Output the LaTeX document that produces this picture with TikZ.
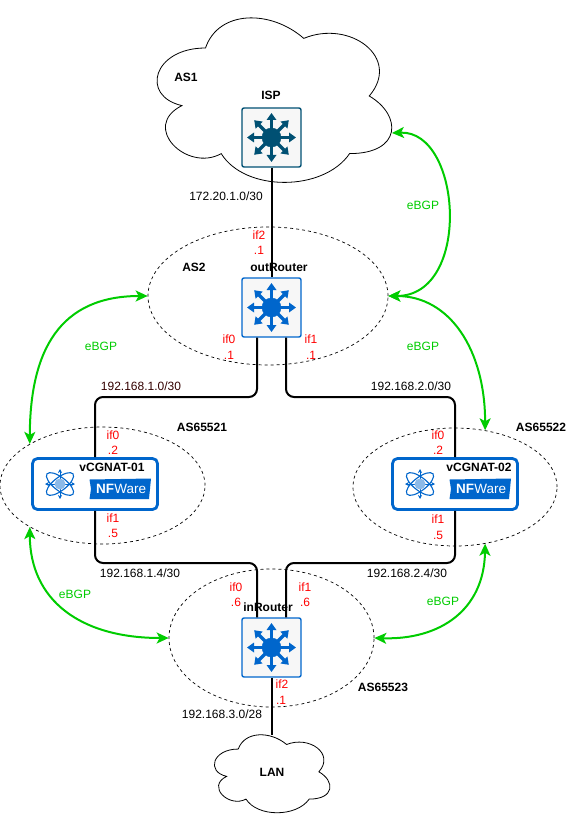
\documentclass[tikz,border=0pt]{standalone}
\usepackage{fontspec}
\setmainfont{Liberation Sans}
\usepackage{xcolor}
\usepackage{tikz}
\usetikzlibrary{shapes.geometric, arrows.meta, calc}
\definecolor{ispblue}{HTML}{005073}
\definecolor{routerblue}{HTML}{0066CC}
\definecolor{bgpgreen}{HTML}{00CC00}
\definecolor{ifred}{HTML}{FF0000}
\tikzset{
  routerbox/.style={rectangle, rounded corners=2pt, minimum width=59pt, minimum height=59pt,
    draw=#1, line width=1.4pt, fill=black!3, inner sep=0pt},
  vnfbox/.style={rectangle, rounded corners=5pt, minimum width=125pt, minimum height=51pt,
    draw=routerblue, line width=2.8pt, fill=white, inner sep=0pt},
  asring/.style={ellipse, draw=black, dashed, line width=0.7pt, inner sep=0pt},
  link/.style={line width=2pt, rounded corners=8pt},
  bgp/.style={line width=2pt, draw=bgpgreen, {Stealth[length=12pt,width=11pt,inset=3pt]}-{Stealth[length=12pt,width=11pt,inset=3pt]}},
  boldname/.style={font=\bfseries\fontsize{12}{14}\selectfont, inner sep=0pt},
  subnet/.style={font=\fontsize{12}{14}\selectfont, inner sep=0pt},
  ifname/.style={font=\fontsize{12}{14}\selectfont, text=ifred, inner sep=0pt},
  bgplabel/.style={font=\fontsize{12}{14}\selectfont, text=bgpgreen, inner sep=0pt},
  cloudline/.style={draw=black, line width=0.8pt},
  logotext/.style={text=white, inner sep=0pt},
  routericon/.pic={
    \foreach \ang in {0,45,...,315}{
      \draw[line width=3.2pt, -{Triangle[length=7pt,width=9.5pt]}, pic actions]
        (0,0) -- (\ang:24.5);
    }
    \fill[pic actions] (0,0) circle (9.5);
  },
  atomicon/.pic={
    \foreach \ang in {38,-38}{
      \draw[routerblue, line width=1.1pt, rotate=\ang] (0,0) ellipse (16.5 and 6.5);
    }
    \foreach \ang in {0,90,180,270}{
      \draw[routerblue, line width=0.9pt, -{Stealth[length=4pt,width=4pt]}] (\ang:5) -- (\ang:15);
    }
    \fill[routerblue!45!white] (0,0) circle (5.5);
  }
}
% x,y as pixels of the page, y going down
\newcommand{\cloudpath}[4]{%
  (#1+0.25*#3,#2+0.25*#4)
  .. controls (#1+0.05*#3,#2+0.25*#4) and (#1,#2+0.5*#4) .. (#1+0.16*#3,#2+0.55*#4)
  .. controls (#1,#2+0.66*#4) and (#1+0.18*#3,#2+0.9*#4) .. (#1+0.31*#3,#2+0.8*#4)
  .. controls (#1+0.4*#3,#2+#4) and (#1+0.7*#3,#2+#4) .. (#1+0.8*#3,#2+0.8*#4)
  .. controls (#1+#3,#2+0.8*#4) and (#1+#3,#2+0.6*#4) .. (#1+0.875*#3,#2+0.5*#4)
  .. controls (#1+#3,#2+0.3*#4) and (#1+0.8*#3,#2+0.1*#4) .. (#1+0.625*#3,#2+0.2*#4)
  .. controls (#1+0.5*#3,#2+0.05*#4) and (#1+0.3*#3,#2+0.05*#4) .. (#1+0.25*#3,#2+0.25*#4) -- cycle}

\begin{document}
\begin{tikzpicture}[x=1pt, y=-1pt]
  \useasboundingbox (0,0) rectangle (576,821);

  % Clouds
  \draw[cloudline] \cloudpath{140}{0}{262}{192};
  \draw[cloudline] \cloudpath{206}{726.3}{129}{91};

  % AS rings
  \node[asring, minimum width=240pt, minimum height=138pt](as2) at (268,296){};
  \node[asring, minimum width=205pt, minimum height=117pt](as65521) at (102.5,485.5){};
  \node[asring, minimum width=204pt, minimum height=118pt](as65522) at (455,487){};
  \node[asring, minimum width=205pt, minimum height=138pt](as65523) at (271.5,638){};

  % Free ends
  \coordinate (lanin) at (271.5,735);
  \coordinate (as1east) at (392,133);
  \coordinate (leftup) at (95,397);
  \coordinate (rightup) at (455,397);
  \coordinate (leftdown) at (95,563);
  \coordinate (rightdown) at (455,563);

  % Boxes
  \node[routerbox=ispblue](isp) at (271.5,137.5){};
  \node[routerbox=routerblue](outrouter) at (271.5,307.5){};
  \node[routerbox=routerblue](inrouter) at (271.5,647.5){};
  \node[vnfbox](vcgnat1) at (95,484){};
  \node[vnfbox](vcgnat2) at (455,484){};

  % Links
  \draw[line width=2pt](isp.south) -- (outrouter.north);
  \draw[line width=2pt](inrouter.south) -- (lanin);
  \draw[link]($(outrouter.south)+(-14.5,0)$) |- (leftup) -- (vcgnat1.north);
  \draw[link]($(outrouter.south)+(14.5,0)$) |- (rightup) -- (vcgnat2.north);
  \draw[link](vcgnat1.south) -- (leftdown) -| ($(inrouter.north)+(-14.5,0)$);
  \draw[link](vcgnat2.south) -- (rightdown) -| ($(inrouter.north)+(14.5,0)$);

  % Icons
  \pic[ispblue, draw=ispblue, fill=ispblue] at (isp) {routericon};
  \pic[routerblue, draw=routerblue, fill=routerblue] at (outrouter) {routericon};
  \pic[routerblue, draw=routerblue, fill=routerblue] at (inrouter) {routericon};
  \pic at (60,484) {atomicon};
  \pic at (420,484) {atomicon};

  % Logos
  \fill[routerblue] (89.5,479.5) -- (151,478.5) -- (149,499) -- (89.5,499) -- (91,489) -- cycle;
  \node[logotext, font=\bfseries\fontsize{13.5}{14}\selectfont](nf1) at (105,489){NF};
  \node[logotext, font=\fontsize{13.5}{14}\selectfont, anchor=west](ware1) at (nf1.east){Ware};
  \fill[routerblue] (449.5,479.5) -- (511,478.5) -- (509,499) -- (449.5,499) -- (451,489) -- cycle;
  \node[logotext, font=\bfseries\fontsize{13.5}{14}\selectfont](nf2) at (465,489){NF};
  \node[logotext, font=\fontsize{13.5}{14}\selectfont, anchor=west](ware2) at (nf2.east){Ware};

  % eBGP arrows
  \draw[bgp](as1east) .. controls (462,130) and (472,296) .. (as2.east);
  \draw[bgp](as2.west) .. controls (60,296) and (30,350) .. (as65521.north west);
  \draw[bgp](as2.east) .. controls (450,296) and (485,350) .. (as65522.62);
  \draw[bgp](as65521.south west) .. controls (30,600) and (80,638) .. (as65523.west);
  \draw[bgp](as65523.east) .. controls (440,640) and (484,610) .. (as65522.-62);

  % Names
  \node[boldname](as1name) at (186,77){AS1};
  \node[boldname](ispname) at (271,95){ISP};
  \node[boldname](as2name) at (194,267){AS2};
  \node[boldname](outname) at (279,267){outRouter};
  \node[boldname](as65521name) at (202,427){AS65521};
  \node[boldname](as65522name) at (541,427){AS65522};
  \node[boldname](vcgnat1name) at (112,467){vCGNAT-01};
  \node[boldname](vcgnat2name) at (479,467){vCGNAT-02};
  \node[boldname](inname) at (268,607){inRouter};
  \node[boldname](as65523name) at (383,687){AS65523};
  \node[boldname](lanname) at (272,772){LAN};

  % Subnets
  \node[subnet](net1) at (226,196){172.20.1.0/30};
  \node[subnet, text=black!80!red](net2) at (141,386){192.168.1.0/30};
  \node[subnet](net3) at (411,386){192.168.2.0/30};
  \node[subnet](net4) at (140,573){192.168.1.4/30};
  \node[subnet](net5) at (407,573){192.168.2.4/30};
  \node[subnet](net6) at (222,714){192.168.3.0/28};

  % Interfaces
  \node[ifname](a1) at (259,235){if2};
  \node[ifname](a2) at (259,250){.1};
  \node[ifname](b1) at (229,339){if0};
  \node[ifname](b2) at (229,355){.1};
  \node[ifname](c1) at (311,339){if1};
  \node[ifname](c2) at (311,355){.1};
  \node[ifname](d1) at (113,435){if0};
  \node[ifname](d2) at (113,450){.2};
  \node[ifname](e1) at (113,518){if1};
  \node[ifname](e2) at (113,533){.5};
  \node[ifname](f1) at (438,435){if0};
  \node[ifname](f2) at (438,450){.2};
  \node[ifname](g1) at (438,519){if1};
  \node[ifname](g2) at (438,535){.5};
  \node[ifname](h1) at (236,587){if0};
  \node[ifname](h2) at (236,602){.6};
  \node[ifname](i1) at (305,587){if1};
  \node[ifname](i2) at (305,602){.6};
  \node[ifname](j1) at (282,684){if2};
  \node[ifname](j2) at (281,700){.1};

  % eBGP labels
  \node[bgplabel](l1) at (423,205){eBGP};
  \node[bgplabel](l2) at (423,346){eBGP};
  \node[bgplabel](l3) at (101,346){eBGP};
  \node[bgplabel](l4) at (75,594){eBGP};
  \node[bgplabel](l5) at (443,601){eBGP};
\end{tikzpicture}
\end{document}
